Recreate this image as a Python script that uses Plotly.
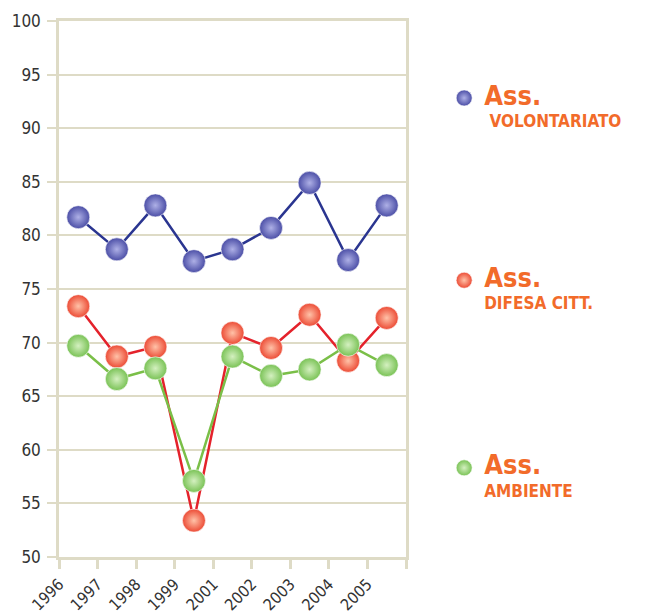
import plotly.graph_objects as go
import numpy as np

# dati
anni = ['1996', '1997', '1998', '1999', '2001', '2002', '2003', '2004', '2005']
volontariato = [81.7, 78.7, 82.8, 77.6, 78.7, 80.7, 84.9, 77.7, 82.8]
difesa_citt = [73.4, 68.7, 69.6, 53.4, 70.9, 69.5, 72.6, 68.3, 72.3]
ambiente = [69.7, 66.6, 67.6, 57.1, 68.7, 66.9, 67.5, 69.8, 67.9]
y_ticks = [50, 55, 60, 65, 70, 75, 80, 85, 90, 95, 100]

x = np.arange(len(anni)) + 0.5
font_narrow = 'Liberation Sans Narrow, DejaVu Sans Condensed, Arial Narrow, sans-serif'
arancio = '#f26b2a'
griglia = '#dedbc6'


def nome(sub):
    return ("<b><span style='font-size:27px'>Ass.</span></b><br>"
            "<b><span style='font-size:17px'>" + sub + "</span></b>")


serie = [
    (volontariato, nome('&nbsp;VOLONTARIATO'), '#2a3590', '#4b4ea6', '#aeb0e6', 'legend'),
    (difesa_citt, nome('DIFESA CITT.'), '#e4222b', '#ec4b35', '#ffc2a8', 'legend2'),
    (ambiente, nome('AMBIENTE'), '#7abf48', '#79c255', '#d4f0c0', 'legend3'),
]

fig = go.Figure()
for vals, label, lc, mc, gc, leg in serie:
    fig.add_trace(go.Scatter(
        x=x, y=vals, mode='lines', showlegend=False, hoverinfo='skip',
        line=dict(color=lc, width=2.5),
    ))
    fig.add_trace(go.Scatter(
        x=x, y=vals, name=label, mode='markers', legend=leg, showlegend=True,
        marker=dict(size=23, color=mc, line=dict(color='rgba(255,255,255,0.6)', width=1),
                    gradient=dict(type='radial', color=gc)),
    ))

legenda = dict(x=1.11, xanchor='left', yanchor='middle', bgcolor='rgba(0,0,0,0)',
               font=dict(family=font_narrow, color=arancio, size=17), valign='top',
               itemsizing='trace')

# la pagina ha un margine di 8px sul body: figura un po' più piccola
fig.update_layout(
    width=653, height=607,
    margin=dict(l=51, r=255, t=13, b=58, autoexpand=False),
    plot_bgcolor='white', paper_bgcolor='white', showlegend=True,
    font=dict(family=font_narrow, color='#333333', size=17),
    legend=dict(legenda, y=0.835),
    legend2=dict(legenda, y=0.495),
    legend3=dict(legenda, y=0.145),
    xaxis=dict(range=[0, len(anni)], tickvals=list(range(len(anni) + 1)),
               ticktext=anni + [''], tickangle=-45, showgrid=False, zeroline=False,
               showline=True, linecolor=griglia, linewidth=2.5, mirror=True,
               ticks='outside', ticklen=9, tickwidth=2.5, tickcolor=griglia,
               tickfont=dict(size=16)),
    yaxis=dict(range=[50, 100], tickvals=y_ticks, showgrid=True, gridcolor=griglia,
               gridwidth=1.5, zeroline=False, showline=True, linecolor=griglia,
               linewidth=2.5, mirror=True, ticks='outside', ticklen=9, tickwidth=1.5,
               tickcolor=griglia, tickfont=dict(size=17), ticklabelstandoff=3),
)

fig.write_html("out.html")
